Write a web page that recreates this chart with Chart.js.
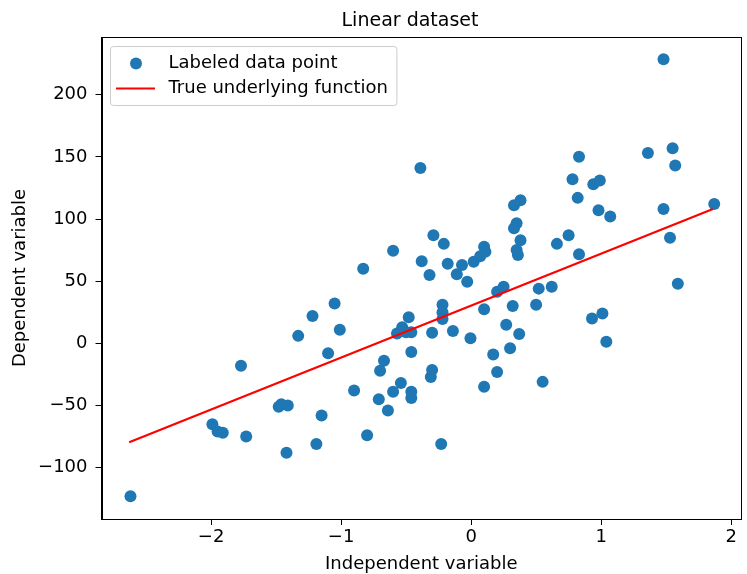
<!DOCTYPE html>
<html>
<head>
<meta charset="utf-8">
<script src="https://cdn.jsdelivr.net/npm/chart.js@4.4.0/dist/chart.umd.min.js"></script>
<style>
  html, body { margin: 0; padding: 0; background: #fff; }
  #wrap { width: 747px; height: 574px; }
</style>
</head>
<body>
<div id="wrap"><canvas id="linChart" width="747" height="574"></canvas></div>
<script>
// scatter points
const xPoints = [
  -2.62, -1.77, -1.22, -1.33, -1.99, -1.95, -1.91, -1.73, -1.48, -1.46,
  -1.41, -1.42, -1.19, -1.15, -1.10, -1.05, -1.01, -0.90, -0.83, -0.80,
  -0.67, -0.70, -0.71, -0.64, -0.60, -0.54, -0.46, -0.46, -0.46, -0.57,
  -0.53, -0.50, -0.46, -0.48, -0.60, -0.39, -0.38, -0.32, -0.29, -0.21,
  -0.18, -0.30, -0.30, -0.31, -0.22, -0.22, -0.22, -0.23, -0.14, -0.11,
  -0.07, -0.03, 0.02, 0.07, 0.10, 0.11, -0.005, 0.10, 0.20, 0.25,
  0.32, 0.27, 0.30, 0.17, 0.20, 0.10, 0.33, 0.38, 0.35, 0.33,
  0.38, 0.35, 0.36, 0.37, 0.52, 0.62, 0.50, 0.55, 0.66, 0.75,
  0.83, 0.78, 0.83, 0.82, 0.94, 0.99, 0.98, 1.07, 0.93, 1.01,
  1.04, 1.36, 1.48, 1.55, 1.57, 1.48, 1.53, 1.59, 1.87
];
const yPoints = [
  -123, -18, 22, 6, -65, -71, -72, -75, -51, -49,
  -50, -88, -81, -58, -8, 32, 11, -38, 60, -74,
  -14, -22, -45, -54, -39, -32, -39, -44, -7, 8,
  13, 9, 9, 21, 74.5, 141, 66, 55, 87, 80,
  64, 8.5, -21.5, -27, 31, 25, 19.5, -81, 10, 55.5,
  63, 49.6, 65.7, 70, 77.7, 73.7, 4, 27.5, 41.5, 45.5,
  30, 15, -4, -9, -23, -35, 111, 115, 96.5, 92.5,
  83, 75, 71, 7.5, 44, 45.5, 31, -31, 80, 87,
  71.6, 132, 150, 117, 128, 131, 107, 102, 20, 24,
  1.3, 153, 228.5, 157, 143, 108, 85, 48, 112
];
// end points of the red line
const lineX = [-2.63, 1.86];
const lineY = [-79.6, 108.0];

const xTicks = [-2, -1, 0, 1, 2];
const yTicks = [-100, -50, 0, 50, 100, 150, 200];
const seriesNames = ['Labeled data point', 'True underlying function'];

const FONT = 'DejaVu Sans';
const minus = v => String(v).replace('-', '\u2212');

const scatterData = xPoints.map((x, i) => ({ x: x, y: yPoints[i] }));
const lineData = lineX.map((x, i) => ({ x: x, y: lineY[i] }));

// frame, title and legend drawn like matplotlib
const decor = {
  id: 'decor',
  afterDraw(chart) {
    const ctx = chart.ctx;
    const a = chart.chartArea;
    ctx.save();
    // spines
    ctx.strokeStyle = '#000';
    ctx.lineWidth = 1;
    ctx.strokeRect(Math.round(a.left) + 0.5, Math.round(a.top) + 0.5,
                   Math.round(a.right - a.left) - 1, Math.round(a.bottom - a.top));
    // title
    ctx.fillStyle = '#000';
    ctx.font = '19px "' + FONT + '"';
    ctx.textAlign = 'center';
    ctx.textBaseline = 'alphabetic';
    ctx.fillText('Linear dataset', 410, 26);

    // legend
    ctx.font = '18px "' + FONT + '"';
    const tw = Math.max(...seriesNames.map(s => ctx.measureText(s).width));
    const bx = 110.5, by = 46.5, bh = 59;
    const bw = 58 + tw + 9;
    ctx.fillStyle = 'rgba(255,255,255,0.8)';
    ctx.strokeStyle = '#cccccc';
    ctx.beginPath();
    ctx.roundRect(bx, by, bw, bh, 3);
    ctx.fill();
    ctx.stroke();

    ctx.fillStyle = '#1f77b4';
    ctx.beginPath();
    ctx.arc(bx + 25.5, by + 17, 6, 0, Math.PI * 2);
    ctx.fill();
    ctx.strokeStyle = '#ff0000';
    ctx.lineWidth = 2.2;
    ctx.beginPath();
    ctx.moveTo(bx + 5.5, by + 42);
    ctx.lineTo(bx + 44.5, by + 42);
    ctx.stroke();

    ctx.fillStyle = '#000';
    ctx.textAlign = 'left';
    ctx.textBaseline = 'middle';
    ctx.fillText(seriesNames[0], bx + 58, by + 17);
    ctx.fillText(seriesNames[1], bx + 58, by + 42);
    ctx.restore();
  }
};

new Chart(document.getElementById('linChart'), {
  type: 'scatter',
  data: {
    datasets: [
      {
        label: seriesNames[0],
        data: scatterData,
        backgroundColor: '#1f77b4',
        borderWidth: 0,
        pointRadius: 6,
        pointHoverRadius: 6,
        order: 1
      },
      {
        type: 'line',
        label: seriesNames[1],
        data: lineData,
        borderColor: '#ff0000',
        borderWidth: 2.2,
        pointRadius: 0,
        fill: false,
        order: 0
      }
    ]
  },
  options: {
    responsive: false,
    animation: false,
    devicePixelRatio: 1,
    layout: { padding: { top: 37, right: 1, left: 0, bottom: 0 } },
    plugins: {
      legend: { display: false },
      title: { display: false },
      tooltip: { enabled: false }
    },
    scales: {
      x: {
        type: 'linear',
        min: -2.843,
        max: 2.076,
        afterBuildTicks: s => { s.ticks = xTicks.map(v => ({ value: v })); },
        afterFit: s => { s.height = 55; },
        grid: { display: true, drawOnChartArea: false, drawTicks: true, tickLength: 6, tickColor: '#000' },
        border: { display: true, color: '#000', width: 1 },
        ticks: {
          color: '#000',
          padding: 2,
          font: { family: FONT, size: 18 },
          callback: v => minus(v)
        },
        title: {
          display: true,
          text: 'Independent variable',
          color: '#000',
          font: { family: FONT, size: 18, lineHeight: 1 },
          padding: { top: 0, bottom: 1 }
        }
      },
      y: {
        type: 'linear',
        min: -141.3,
        max: 246.4,
        afterBuildTicks: s => { s.ticks = yTicks.map(v => ({ value: v })); },
        afterFit: s => { s.width = 101.5; },
        grid: { display: true, drawOnChartArea: false, drawTicks: true, tickLength: 6, tickColor: '#000' },
        border: { display: true, color: '#000', width: 1 },
        ticks: {
          color: '#000',
          padding: 8,
          font: { family: FONT, size: 18 },
          callback: v => minus(v)
        },
        title: {
          display: true,
          text: 'Dependent variable',
          color: '#000',
          font: { family: FONT, size: 18, lineHeight: 1 },
          padding: { top: 11, bottom: 0 }
        }
      }
    }
  },
  plugins: [decor]
});
</script>
</body>
</html>
